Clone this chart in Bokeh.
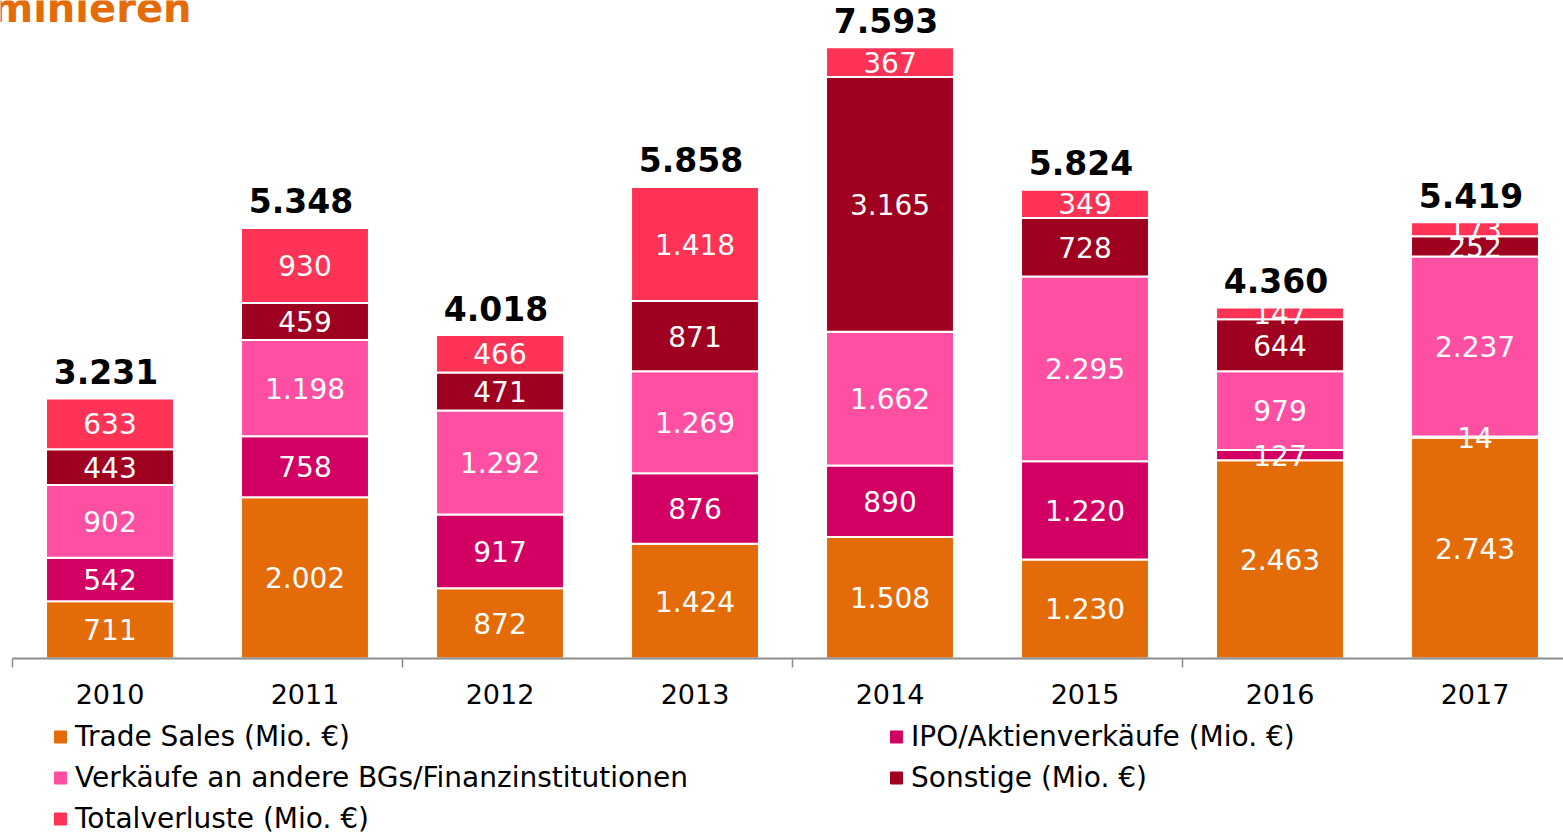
import numpy as np
from bokeh.plotting import figure
from bokeh.models import ColumnDataSource, Range1d, Legend, LegendItem, Label
from bokeh.core.properties import value
from bokeh.embed import file_html
from bokeh.resources import INLINE

# ---------------- data ----------------
years = ["2010", "2011", "2012", "2013", "2014", "2015", "2016", "2017"]
trade_sales = [711, 2002, 872, 1424, 1508, 1230, 2463, 2743]
ipo = [542, 758, 917, 876, 890, 1220, 127, 14]
verkaeufe = [902, 1198, 1292, 1269, 1662, 2295, 979, 2237]
sonstige = [443, 459, 471, 871, 3165, 728, 644, 252]
totalverluste = [633, 930, 466, 1418, 367, 349, 147, 173]
totals = [3231, 5348, 4018, 5858, 7593, 5824, 4360, 5419]

series_names = [
    "Trade Sales (Mio. €)",
    "IPO/Aktienverkäufe (Mio. €)",
    "Verkäufe an andere BGs/Finanzinstitutionen",
    "Sonstige (Mio. €)",
    "Totalverluste (Mio. €)",
]
series_keys = ["trade", "ipo", "verk", "sonst", "total"]
series_values = [trade_sales, ipo, verkaeufe, sonstige, totalverluste]
colors = ["#E36C09", "#D20062", "#FF4FA3", "#A00020", "#FF3355"]
title_fragment = "minieren"

# ---------------- layout constants ----------------
W, H = 1563, 834
PX_PER_UNIT = 0.0805
X0_PX = 12
CAT_PX = 195
BASE_PX = 658
FONT = "DejaVu Sans"


def fmt(v):
    return f"{v:,}".replace(",", ".")


x_range = Range1d(-X0_PX / CAT_PX, (W - X0_PX) / CAT_PX)
y_range = Range1d(-(H - BASE_PX) / PX_PER_UNIT, BASE_PX / PX_PER_UNIT)

p = figure(width=W, height=H, x_range=x_range, y_range=y_range,
           output_backend="svg", toolbar_location=None,
           x_axis_type=None, y_axis_type=None, min_border=0, title=None)
p.outline_line_color = None
p.background_fill_color = "white"
p.border_fill_color = "white"

xs = np.arange(len(years)) + 0.5
data = {"x": xs, "hidden": np.full(len(years), np.nan)}
for k, v in zip(series_keys, series_values):
    data[k] = v
src = ColumnDataSource(data)

p.vbar_stack(series_keys, x="x", width=0.656, color=colors,
             line_color="white", line_width=2, source=src)

# segment labels
lx, ly, lt = [], [], []
bottom = np.zeros(len(years))
for v in series_values:
    arr = np.array(v, dtype=float)
    for i in range(len(years)):
        lx.append(xs[i])
        ly.append(bottom[i] + arr[i] / 2)
        lt.append(fmt(v[i]))
    bottom += arr
p.text(x=lx, y=ly, text=lt, text_align="center", text_baseline="middle",
       text_color="white", text_font=value(FONT), text_font_size="28px")

# totals
p.text(x=xs, y=totals, text=[fmt(t) for t in totals], x_offset=-4, y_offset=-27,
       text_align="center", text_baseline="middle", text_color="black",
       text_font=value(FONT), text_font_style="bold", text_font_size="33px")

# axis line and ticks
p.segment(x0=[0], y0=[0], x1=[len(years)], y1=[0], line_color="#8C8C8C", line_width=2)
tick_pos = [0, 2, 4, 6, 8]
tick_len = 9 / PX_PER_UNIT
p.segment(x0=tick_pos, y0=[0] * len(tick_pos), x1=tick_pos, y1=[-tick_len] * len(tick_pos),
          line_color="#8C8C8C", line_width=1.5)

# year labels
p.text(x=xs, y=[0] * len(xs), text=years, y_offset=35, text_align="center",
       text_baseline="middle", text_color="black", text_font=value(FONT),
       text_font_size="27px")

# legend (marker proxies, not drawn in the plot area because y is NaN)
proxies = [p.scatter(x="x", y="hidden", source=src, marker="square", fill_color=c,
                     line_color=c, size=12) for c in colors]


def make_legend(idx, loc):
    lg = Legend(items=[LegendItem(label=series_names[i], renderers=[proxies[i]], index=0) for i in idx],
                location=loc, orientation="vertical", glyph_width=30, glyph_height=41,
                label_height=41, spacing=0, padding=0, margin=0, label_standoff=0,
                border_line_color=None, background_fill_alpha=0,
                label_text_font=FONT, label_text_font_size="28px", label_text_color="black")
    return lg


p.add_layout(make_legend([0, 2, 4], (45, -4.5)))
p.add_layout(make_legend([1, 3], (881, 36.5)))

# cut-off title fragment at top-left (cut off in the reference as well)
p.add_layout(Label(x=191, y=H - 7.5, x_units="screen", y_units="screen", text=title_fragment,
                   text_align="right", text_baseline="middle", text_color="#E36C09",
                   text_font=FONT, text_font_style="bold", text_font_size="40px"))

open("out.html", "w").write(file_html(p, INLINE))
